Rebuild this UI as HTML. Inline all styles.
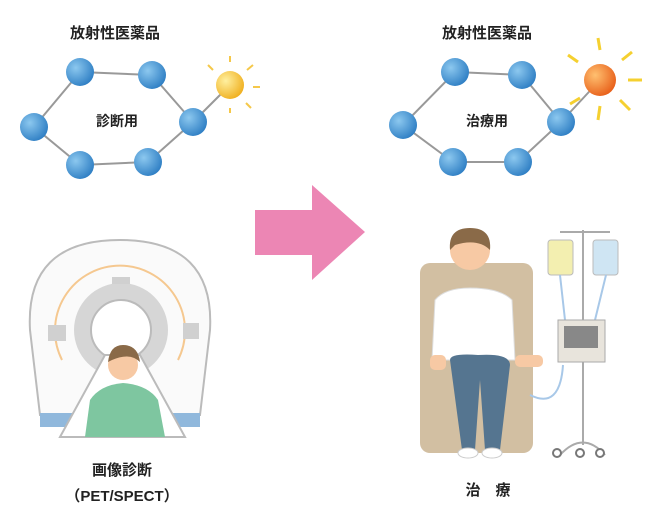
<!DOCTYPE html><html><head><meta charset="utf-8"><style>body{margin:0;background:#fff}svg{display:block}text{font-family:"Liberation Sans","Noto Sans CJK JP",sans-serif;font-weight:bold;fill:#222}</style></head><body>
<svg width="662" height="527" viewBox="0 0 662 527" xmlns="http://www.w3.org/2000/svg">
<defs><radialGradient id="b" cx="35%" cy="35%" r="70%"><stop offset="0" stop-color="#8cc8ef"/><stop offset="1" stop-color="#2f7fc4"/></radialGradient>
<radialGradient id="y" cx="35%" cy="35%" r="70%"><stop offset="0" stop-color="#fff0a0"/><stop offset="1" stop-color="#f0b020"/></radialGradient>
<radialGradient id="o" cx="35%" cy="35%" r="70%"><stop offset="0" stop-color="#ffc070"/><stop offset="1" stop-color="#e8601a"/></radialGradient></defs>
<text x="115" y="38" font-size="15" text-anchor="middle">放射性医薬品</text>
<text x="487" y="38" font-size="15" text-anchor="middle">放射性医薬品</text>
<g stroke="#999" stroke-width="2" fill="none"><polygon points="80,72 152,75 193,122 148,162 80,165 34,127"/><line x1="193" y1="122" x2="230" y2="85"/>
<polygon points="455,72 522,75 561,122 518,162 453,162 403,125"/><line x1="561" y1="122" x2="600" y2="80"/></g>
<g fill="url(#b)"><circle cx="80" cy="72" r="14"/><circle cx="152" cy="75" r="14"/><circle cx="193" cy="122" r="14"/><circle cx="148" cy="162" r="14"/><circle cx="80" cy="165" r="14"/><circle cx="34" cy="127" r="14"/>
<circle cx="455" cy="72" r="14"/><circle cx="522" cy="75" r="14"/><circle cx="561" cy="122" r="14"/><circle cx="518" cy="162" r="14"/><circle cx="453" cy="162" r="14"/><circle cx="403" cy="125" r="14"/></g>
<g stroke="#f5c84a" stroke-width="2"><line x1="230" y1="62" x2="230" y2="56"/><line x1="247" y1="70" x2="253" y2="65"/><line x1="253" y1="87" x2="260" y2="87"/><line x1="246" y1="103" x2="251" y2="108"/><line x1="213" y1="70" x2="208" y2="65"/><line x1="230" y1="108" x2="230" y2="113"/></g>
<circle cx="230" cy="85" r="14" fill="url(#y)"/>
<g stroke="#f5d030" stroke-width="3"><line x1="600" y1="50" x2="598" y2="38"/><line x1="622" y1="60" x2="632" y2="52"/><line x1="628" y1="80" x2="642" y2="80"/><line x1="620" y1="100" x2="630" y2="110"/><line x1="578" y1="62" x2="568" y2="55"/><line x1="600" y1="106" x2="598" y2="120"/><line x1="580" y1="98" x2="570" y2="104"/></g>
<circle cx="600" cy="80" r="16" fill="url(#o)"/>
<text x="117" y="126" font-size="14" text-anchor="middle">診断用</text>
<text x="487" y="126" font-size="14" text-anchor="middle">治療用</text>
<polygon points="255,210 312,210 312,185 365,232 312,280 312,255 255,255" fill="#ec86b4"/>
<!-- scanner -->
<path d="M40,415 L30,330 Q25,240 120,240 Q215,240 210,330 L200,415 Z" fill="#fafafa" stroke="#bbb" stroke-width="2"/>
<rect x="40" y="413" width="160" height="14" fill="#90b8dc"/>
<path d="M62,360 A65,65 0 1 1 178,360" fill="none" stroke="#f5c890" stroke-width="2"/>
<circle cx="121" cy="330" r="47" fill="#d6d6d6"/><circle cx="121" cy="330" r="30" fill="#fff" stroke="#bbb" stroke-width="2"/>
<rect x="48" y="325" width="18" height="16" fill="#d0d0d0"/><rect x="183" y="323" width="16" height="16" fill="#d0d0d0"/><rect x="112" y="277" width="18" height="7" fill="#d0d0d0"/>
<polygon points="60,437 105,355 140,355 185,437" fill="#fff" stroke="#bbb" stroke-width="2"/>
<circle cx="123" cy="365" r="15" fill="#f7c9a4"/><path d="M108,362 Q110,345 123,345 Q138,345 140,362 Q130,352 112,360Z" fill="#8a6a48"/>
<path d="M85,437 L90,400 Q100,385 123,383 Q148,385 158,400 L165,437Z" fill="#7ec6a0"/>
<!-- chair & person -->
<rect x="420" y="263" width="113" height="190" rx="10" fill="#d2bfa2"/>
<circle cx="470" cy="250" r="20" fill="#f7c9a4"/><path d="M450,250 Q448,228 470,228 Q492,228 490,250 Q478,238 455,245Z" fill="#8a6a48"/>
<path d="M432,360 L435,300 Q445,288 470,288 Q500,288 512,300 L515,360Z" fill="#fff" stroke="#ddd"/>
<path d="M450,360 Q450,353 478,355 Q510,353 510,365 L500,450 L485,450 L480,380 L475,450 L462,450Z" fill="#557590"/>
<ellipse cx="468" cy="453" rx="10" ry="5" fill="#fff" stroke="#ccc"/><ellipse cx="492" cy="453" rx="10" ry="5" fill="#fff" stroke="#ccc"/>
<rect x="430" y="355" width="16" height="15" rx="5" fill="#f7c9a4"/><rect x="515" y="355" width="28" height="12" rx="5" fill="#f7c9a4"/>
<!-- IV -->
<line x1="583" y1="230" x2="583" y2="445" stroke="#aaa" stroke-width="2"/>
<line x1="560" y1="232" x2="610" y2="232" stroke="#aaa" stroke-width="2"/>
<rect x="548" y="240" width="25" height="35" rx="3" fill="#f3efb0" stroke="#bbb"/><rect x="593" y="240" width="25" height="35" rx="3" fill="#cfe5f3" stroke="#bbb"/>
<path d="M560,275 L565,320 M606,275 L595,320 M563,365 Q560,410 530,395" stroke="#a8c8e8" stroke-width="2" fill="none"/>
<rect x="558" y="320" width="47" height="42" fill="#e8e4dc" stroke="#aaa"/><rect x="564" y="326" width="34" height="22" fill="#888"/>
<path d="M560,455 Q583,430 605,455" stroke="#aaa" stroke-width="2" fill="none"/>
<circle cx="557" cy="453" r="4" fill="#fff" stroke="#777" stroke-width="2"/><circle cx="580" cy="453" r="4" fill="#fff" stroke="#777" stroke-width="2"/><circle cx="600" cy="453" r="4" fill="#fff" stroke="#777" stroke-width="2"/>
<text x="122" y="475" font-size="15" text-anchor="middle">画像診断</text>
<text x="122" y="501" font-size="15" text-anchor="middle">（PET/SPECT）</text>
<text x="488" y="495" font-size="15" text-anchor="middle">治　療</text>
</svg></body></html>
